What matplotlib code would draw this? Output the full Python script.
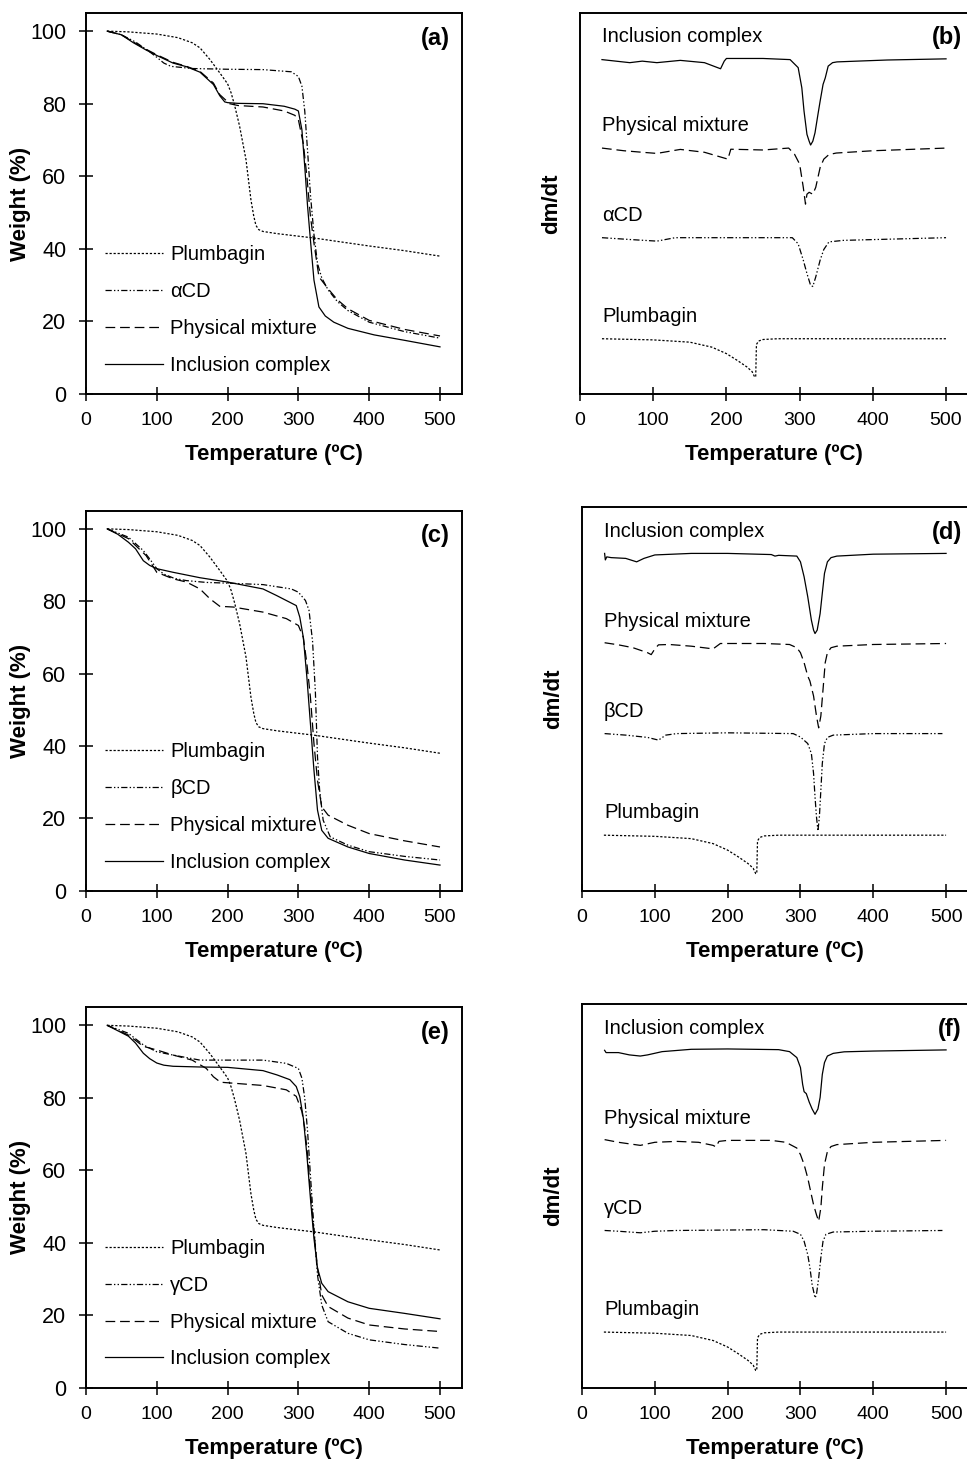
"""TGA (left) and DTG (right) curves of plumbagin, the cyclodextrins,
their physical mixtures and the inclusion complexes."""
import numpy as np
import matplotlib
matplotlib.use("Agg")
import matplotlib.pyplot as plt

plt.rcParams["font.family"] = ["Liberation Sans", "DejaVu Sans"]
plt.rcParams["lines.scale_dashes"] = False

# --------------------------------------------------------------------------- #
# TGA data: temperature (ºC) vs weight (%)
# --------------------------------------------------------------------------- #
PLUMB_T = [30, 60, 100, 130, 150, 161, 175, 189, 200, 205, 210, 217, 226, 233,
           237, 240, 244, 250, 270, 300, 322, 350, 400, 450, 500]
PLUMB_W = [100, 99.8, 99.2, 98.2, 96.8, 95.4, 92.2, 88.5, 85.5, 83, 79.5, 73.8,
           64.6, 53.5, 49, 46.5, 45.3, 44.8, 44.2, 43.5, 43, 42.2, 40.8, 39.5, 38]

ACD_T = [30, 50, 70, 90, 100, 110, 120, 150, 200, 250, 290, 300, 305, 309, 313,
         317, 322, 327, 333, 342, 355, 370, 400, 450, 500]
ACD_W = [100, 99, 97, 94.3, 92.8, 91.2, 90.3, 89.7, 89.5, 89.4, 88.8, 87.5, 84.8,
         78, 67, 55, 44, 36, 32, 28.7, 25.5, 23, 19.8, 17.2, 15.4]
PM_A_T = [30, 50, 67, 85, 100, 123, 142, 161, 180, 189, 203, 215, 250, 280, 295,
          300, 307, 312, 317, 322, 329, 342, 355, 370, 400, 450, 500]
PM_A_W = [100, 99, 97, 95, 93.5, 91.4, 90.3, 88.9, 85.7, 82.5, 80, 79.5, 79.1, 78,
          76.8, 75.6, 69, 60, 49, 41.6, 32.3, 29, 26, 23.5, 20.3, 17.8, 16]
IC_A_T = [30, 50, 67, 85, 100, 123, 142, 161, 180, 189, 196, 200, 215, 250, 280,
          295, 300, 305, 309, 313, 317, 322, 329, 338, 350, 370, 407, 450, 500]
IC_A_W = [100, 99, 96.8, 94.8, 93.3, 91.2, 90.2, 88.7, 85.3, 82.2, 80.5, 80.3,
          80.1, 80, 79.3, 78.5, 78, 72.8, 62.7, 51.7, 42.5, 31.4, 24, 21.5, 19.8,
          18.1, 16.3, 14.8, 13]

BCD_T = [30, 60, 81, 90, 100, 110, 125, 142, 170, 200, 250, 290, 300, 310, 315,
         320, 324, 327, 330, 335, 345, 370, 400, 450, 500]
BCD_W = [100, 97.7, 94, 91.7, 89, 87.5, 86.3, 85.7, 85.2, 85, 84.6, 83.4, 82.5,
         80.2, 77.5, 69, 55, 37, 27.8, 19.5, 14.9, 12.6, 10.8, 9.5, 8.5]
PM_C_T = [30, 60, 85, 100, 123, 142, 161, 175, 189, 208, 250, 283, 300, 307, 312,
          317, 322, 327, 333, 342, 370, 400, 450, 500]
PM_C_W = [100, 97.3, 92.6, 88, 86.2, 85.3, 83.4, 80.7, 78.6, 78.4, 77, 75.2, 73.3,
          70, 62.8, 53.5, 40.7, 30.5, 23.2, 20.9, 18.1, 15.8, 13.8, 12.1]
IC_C_T = [30, 45, 60, 70, 81, 90, 100, 123, 161, 200, 250, 269, 288, 297, 302,
          307, 312, 317, 322, 327, 333, 342, 370, 400, 450, 500]
IC_C_W = [100, 98.5, 96.3, 94.5, 91.2, 89.9, 89, 88, 86.5, 85.3, 83.4, 81.6, 79.7,
          78.8, 75.6, 70, 59, 46.2, 33.3, 22.3, 16.7, 14.5, 12.1, 10.3, 8.5, 7.1]

GCD_T = [30, 60, 81, 100, 123, 161, 200, 250, 283, 300, 305, 309, 313, 317, 322,
         327, 333, 342, 370, 400, 450, 500]
GCD_W = [100, 97.8, 94.6, 92.7, 91.8, 90.4, 90.4, 90.4, 89.5, 88.1, 85.4, 79.9,
         70.7, 58.7, 44, 31.1, 22.8, 18.2, 15, 13.2, 11.9, 10.9]
PM_E_T = [30, 60, 81, 100, 123, 150, 170, 180, 190, 210, 250, 283, 297, 305, 309,
          313, 317, 322, 327, 333, 342, 370, 400, 450, 500]
PM_E_W = [100, 97.3, 94.2, 93.2, 91.8, 90.4, 88.1, 85.8, 84.3, 84, 83.4, 82.2,
          80.4, 76.2, 71.6, 64.2, 54.1, 43, 33, 25.6, 22.4, 19.2, 17.3, 16.2, 15.5]
IC_E_T = [30, 60, 70, 81, 90, 100, 110, 123, 161, 200, 250, 270, 288, 297, 302,
          307, 312, 317, 322, 327, 333, 342, 370, 400, 450, 500]
IC_E_W = [100, 97, 95.1, 92.3, 90.8, 89.6, 89, 88.7, 88.5, 88.4, 87.5, 86.3, 85,
          83.1, 80.3, 74.4, 64.2, 52.3, 41.2, 33, 28.8, 26.5, 23.7, 21.9, 20.5, 19]

# --------------------------------------------------------------------------- #
# DTG data: dm/dt relative to each curve's own baseline (arbitrary units)
# --------------------------------------------------------------------------- #
PLUMB_D_T = [30, 100, 150, 180, 200, 215, 228, 235, 238.5, 240, 241, 244, 250,
             270, 500]
PLUMB_D = [0, -0.3, -0.9, -2.2, -3.9, -5.7, -7.4, -8.6, -10, -10, -1.5, -0.6,
           -0.2, 0, 0]

ACD_D_T = [30, 70, 105, 130, 200, 290, 298, 305, 310, 315, 318, 322, 328, 333,
           340, 360, 500]
ACD_D = [0, -0.5, -0.9, 0, 0, 0, -1.6, -5.9, -9.4, -12.5, -12.8, -10.3, -5.9,
         -3.1, -1.1, -0.7, 0]
PM_B_T = [30, 60, 85, 105, 137, 170, 202, 206, 250, 285, 293, 300, 305, 308, 310,
          313, 318, 322, 328, 333, 340, 350, 400, 500]
PM_B = [0, -0.7, -1.1, -1.4, -0.35, -1.1, -2.9, -0.3, -0.5, 0, -1.6, -4.2, -10.3,
        -14.7, -12.1, -11.6, -12.1, -10.3, -5.1, -2.9, -1.7, -1.3, -0.7, 0]
IC_B_T = [30, 68, 85, 105, 137, 170, 192, 197, 200, 250, 287, 298, 303, 306, 310,
          313, 315, 318, 321, 325, 328, 332, 335, 339, 345, 351, 378, 420, 500]
IC_B = [-0.3, -1.1, -0.7, -1.1, -0.5, -1.1, -2.7, -0.7, 0, 0, -0.3, -2.4, -7.7,
        -13.8, -19.9, -21.7, -22.7, -21.7, -19.5, -14.7, -11.2, -6.8, -5.1, -2.0,
        -1.1, -0.9, -0.7, -0.4, -0.1]

BCD_D_T = [31, 60, 90, 105, 115, 130, 200, 290, 300, 310, 315, 318, 320, 322,
           324, 326, 328, 330, 333, 337, 345, 400, 495]
BCD_D = [0, -0.4, -1.0, -1.7, -0.4, 0, 0.2, 0, -0.9, -2.6, -5.2, -10.4, -16.5,
         -21.7, -25.4, -21.7, -14.8, -7.8, -2.6, -1.0, -0.4, 0, 0]
PM_D_T = [31, 50, 70, 90, 95, 100, 105, 120, 150, 180, 185, 190, 250, 285, 295,
          300, 305, 310, 313, 318, 322, 325, 328, 331, 334, 337, 342, 350, 400, 500]
PM_D = [0.2, -0.35, -1.1, -2.4, -2.9, -1.4, -0.35, -0.26, -0.7, -1.4, -0.7, 0, 0,
        -0.26, -1.1, -2.4, -5.0, -8.5, -9.8, -13.7, -18.9, -22, -18.9, -12.0, -5.0,
        -2.4, -1.1, -0.7, -0.26, 0]
IC_D_T = [31, 32, 34, 40, 60, 75, 85, 100, 150, 200, 260, 265, 270, 295, 300, 305,
          310, 315, 318, 320, 323, 327, 330, 333, 337, 342, 350, 400, 500]
IC_D = [0, -1.7, -0.9, -1.1, -1.3, -2.2, -1.3, -0.4, 0, 0, -0.3, -0.7, -0.5,
        -0.7, -2.2, -6.1, -11.3, -17.4, -20, -20.9, -20, -15.7, -10.4, -5.2, -2.2,
        -1.1, -0.7, -0.2, 0]

GCD_D_T = [31, 50, 80, 100, 130, 250, 290, 300, 305, 310, 313, 316, 318, 320,
           322, 325, 328, 331, 335, 345, 400, 495]
GCD_D = [0, -0.2, -0.6, -0.2, 0, 0.2, -0.2, -1.0, -2.8, -6.3, -9.7, -14.1, -15.8,
         -17.6, -16.7, -12.4, -7.1, -2.8, -1.0, -0.4, -0.2, 0]
PM_F_T = [31, 50, 80, 100, 130, 160, 180, 184, 188, 200, 260, 280, 295, 300, 305,
          310, 315, 318, 322, 325, 328, 330, 333, 337, 342, 350, 400, 500]
PM_F = [0.2, -0.5, -1.3, -0.5, -0.26, -0.5, -1.3, -1.7, -0.26, 0, 0, -0.5, -2.0,
        -3.7, -6.3, -9.8, -14.2, -16.8, -19.4, -21.1, -17.6, -12.4, -6.3, -2.9,
        -1.6, -1.1, -0.5, 0]
IC_F_T = [31, 33, 50, 65, 80, 90, 110, 150, 200, 270, 285, 295, 300, 303, 305,
          308, 312, 316, 320, 324, 327, 330, 333, 337, 345, 360, 400, 500]
IC_F = [0, -0.6, -0.6, -1.2, -1.5, -1.2, -0.35, 0.26, 0.35, 0.17, -0.35, -1.9,
        -4.5, -8.9, -10.8, -11.3, -13.5, -15.3, -16.7, -15.3, -12.3, -6.3, -3.2,
        -1.5, -0.8, -0.4, -0.2, 0.1]

SERIES = ["Plumbagin", "CD", "Physical mixture", "Inclusion complex"]
DASHES = {
    "Plumbagin": (0, (1.6, 1.3)),
    "CD": (0, (4.5, 1.6, 1.0, 1.6, 1.0, 1.6)),
    "Physical mixture": (0, (7, 3.5)),
    "Inclusion complex": "-",
}

XMAX = 531


def style_axes(ax):
    ax.set_xlim(0, XMAX)
    ax.set_xticks(np.arange(0, 501, 100))
    for side in ax.spines.values():
        side.set_linewidth(1.4)
    ax.tick_params(axis="x", direction="inout", length=9.5, width=1.1,
                   labelsize=14, pad=8.5)
    ax.tick_params(axis="y", direction="inout", length=9.5, width=1.1,
                   labelsize=15.5, pad=9.5)
    ax.set_xlabel("Temperature (ºC)", fontsize=16, fontweight="bold")
    ax.xaxis.set_label_coords(0.5, -0.132)


def draw_tga(ax, curves, cd_name, tag):
    for name, (t, w) in zip(SERIES, curves):
        label = cd_name if name == "CD" else name
        ax.plot(t, w, color="black", lw=0.9, linestyle=DASHES[name], label=label)
    style_axes(ax)
    ax.set_ylim(0, 105)
    ax.set_yticks(np.arange(0, 101, 20))
    ax.set_ylabel("Weight (%)", fontsize=16, fontweight="bold")
    ax.yaxis.set_label_coords(-0.147, 0.5)
    ax.legend(loc="center left", bbox_to_anchor=(0.05, 0.2205), frameon=False,
              fontsize=14.5, handlelength=2.9, handletextpad=0.35,
              labelspacing=0.88, borderpad=0, borderaxespad=0)
    ax.text(0.968, 0.934, tag, transform=ax.transAxes, ha="right", va="center",
            fontsize=17, fontweight="bold")


def draw_dtg(ax, curves, cd_name, tag):
    offsets = {"Inclusion complex": 88, "Physical mixture": 64.5,
               "CD": 41, "Plumbagin": 14.5}
    for name, (t, d) in zip(SERIES, curves):
        label = cd_name if name == "CD" else name
        base = offsets[name]
        ax.plot(t, np.asarray(d) + base, color="black", lw=0.9,
                linestyle=DASHES[name])
        ax.text(30, base + 5.8, label, fontsize=14.5, va="center", ha="left")
    style_axes(ax)
    ax.set_ylim(0, 100)
    ax.set_yticks([])
    ax.set_ylabel("dm/dt", fontsize=16, fontweight="bold")
    ax.yaxis.set_label_coords(-0.046, 0.5)
    ax.text(0.982, 0.934, tag, transform=ax.transAxes, ha="right", va="center",
            fontsize=17, fontweight="bold")


fig = plt.figure(figsize=(9.67, 14.61), dpi=100)

ax_a = fig.add_axes([0.0889, 0.7303, 0.3888, 0.2608])
ax_b = fig.add_axes([0.5998, 0.7303, 0.4020, 0.2610])
ax_c = fig.add_axes([0.0889, 0.3903, 0.3888, 0.2601])
ax_d = fig.add_axes([0.6019, 0.3903, 0.3998, 0.2624])
ax_e = fig.add_axes([0.0889, 0.0502, 0.3888, 0.2604])
ax_f = fig.add_axes([0.6019, 0.0502, 0.3998, 0.2624])

draw_tga(ax_a, [(PLUMB_T, PLUMB_W), (ACD_T, ACD_W), (PM_A_T, PM_A_W),
                (IC_A_T, IC_A_W)], "αCD", "(a)")
draw_dtg(ax_b, [(PLUMB_D_T, PLUMB_D), (ACD_D_T, ACD_D), (PM_B_T, PM_B),
                (IC_B_T, IC_B)], "αCD", "(b)")
draw_tga(ax_c, [(PLUMB_T, PLUMB_W), (BCD_T, BCD_W), (PM_C_T, PM_C_W),
                (IC_C_T, IC_C_W)], "βCD", "(c)")
draw_dtg(ax_d, [(PLUMB_D_T, PLUMB_D), (BCD_D_T, BCD_D), (PM_D_T, PM_D),
                (IC_D_T, IC_D)], "βCD", "(d)")
draw_tga(ax_e, [(PLUMB_T, PLUMB_W), (GCD_T, GCD_W), (PM_E_T, PM_E_W),
                (IC_E_T, IC_E_W)], "γCD", "(e)")
draw_dtg(ax_f, [(PLUMB_D_T, PLUMB_D), (GCD_D_T, GCD_D), (PM_F_T, PM_F),
                (IC_F_T, IC_F)], "γCD", "(f)")

fig.savefig("out.png", dpi=100)
plt.close(fig)
